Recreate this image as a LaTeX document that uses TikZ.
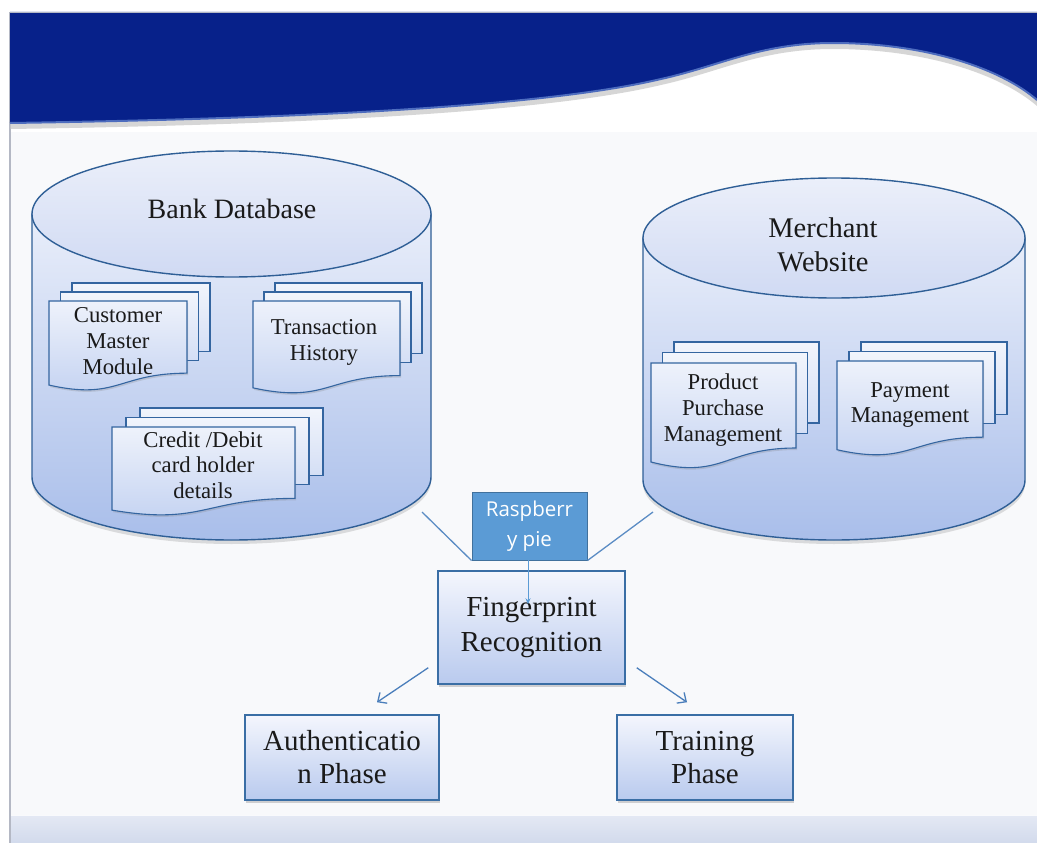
\documentclass[tikz,border=0pt]{standalone}
\usepackage{fontspec}
\setmainfont{Liberation Serif}
\newfontfamily\rpfont{Open Sans}
\usetikzlibrary{shadows,arrows.meta}
\definecolor{bandblue}{HTML}{07218A}
\definecolor{bandrim}{HTML}{4D6CBE}
\definecolor{framegray}{HTML}{B4B8C4}
\definecolor{contentbg}{HTML}{F8F9FB}
\definecolor{cylline}{HTML}{2F5F96}
\definecolor{cyltop}{HTML}{E9EEFA}
\definecolor{cylbot}{HTML}{A9BEEA}
\definecolor{elltop}{HTML}{EBEFFA}
\definecolor{ellbot}{HTML}{D0DAF3}
\definecolor{docline}{HTML}{3465A0}
\definecolor{doctop}{HTML}{EEF2FB}
\definecolor{docbot}{HTML}{C2D1F1}
\definecolor{boxline}{HTML}{3A6EA5}
\definecolor{boxtop}{HTML}{F4F6FD}
\definecolor{boxbot}{HTML}{B9CAEE}
\definecolor{rpfill}{HTML}{5B9BD5}
\definecolor{rpline}{HTML}{41719C}
\definecolor{conncol}{HTML}{5B8CC4}
\definecolor{arrowcol}{HTML}{4A7EBB}
\definecolor{txt}{HTML}{1A1A1A}
\definecolor{footband}{HTML}{D2DAEC}
\definecolor{foottop}{HTML}{E4E9F4}
\tikzset{
  lbl/.style={inner sep=0pt, align=center, text=txt},
  docback/.style={draw=docline, line width=1.1pt, top color=doctop!80!white, bottom color=docbot!70!white},
  docfront/.style={draw=docline, line width=1.1pt, top color=doctop, bottom color=docbot,
     drop shadow={opacity=0.25, shadow xshift=1pt, shadow yshift=-2pt}},
  cylbody/.style={draw=cylline, line width=1.4pt, top color=cyltop, bottom color=cylbot,
     drop shadow={opacity=0.25, shadow xshift=0pt, shadow yshift=-4pt}},
  cyltopell/.style={draw=cylline, line width=1.4pt, top color=elltop, bottom color=ellbot},
  phasebox/.style={draw=boxline, line width=1.5pt, top color=boxtop, bottom color=boxbot,
     inner sep=0pt, align=center, text=txt,
     drop shadow={opacity=0.35, shadow xshift=1pt, shadow yshift=-3pt}},
  rpbox/.style={draw=rpline, line width=1pt, fill=rpfill, text=white, align=center, inner sep=0pt},
  conn/.style={draw=conncol, line width=1.3pt},
  flow/.style={draw=arrowcol, line width=1.3pt, -{Straight Barb[length=7pt,width=13pt]}},
  rparrow/.style={draw=rpfill, line width=0.8pt, -{Stealth[length=6pt,width=5pt]}}
}
\newcommand\mdocstack[6]{%
  \draw[docback] ({#1+2*#5},{#2-2*#6}) rectangle ({#1+2*#5+#3},{#2+0.802*#4-2*#6-4});
  \draw[docback] ({#1+#5},{#2-#6}) rectangle ({#1+#5+#3},{#2+0.802*#4-#6-4});
  \draw[docfront] (#1,#2) -- ({#1+#3},#2) -- ({#1+#3},{#2+0.802*#4})
     .. controls ({#1+0.5*#3},{#2+0.802*#4}) and ({#1+0.5*#3},{#2+1.107*#4}) .. (#1,{#2+0.934*#4}) -- cycle;
}
\begin{document}
\begin{tikzpicture}[x=1pt,y=-1pt]
\useasboundingbox (0,0) rectangle (1037,843);
\fill[white] (0,0) rectangle (1037,843);
% content background
\fill[contentbg] (10,132) rectangle (1037,815);
% bottom band
\shade[top color=foottop, bottom color=footband] (10,815) rectangle (1037,843);
\draw[white, line width=1pt, opacity=0.8] (10,815.5) -- (1037,815.5);
% left frame line
\draw[framegray, line width=1.2pt] (10,12) -- (10,843);
% header band shadow
\fill[gray!45, opacity=0.7] (10,18) -- (1037,18) -- (1037,106)
  .. controls (1000,74) and (925,49) .. (833,49)
  .. controls (760,49) and (720,72) .. (661,85)
  .. controls (560,109) and (350,124) .. (10,129) -- cycle;
% header band
\fill[bandblue] (10,12) -- (1037,12) -- (1037,100)
  .. controls (1000,68) and (925,43) .. (833,43)
  .. controls (760,43) and (720,66) .. (661,79)
  .. controls (560,103) and (350,118) .. (10,123) -- cycle;
\draw[bandrim, line width=2pt] (1037,100)
  .. controls (1000,68) and (925,43) .. (833,43)
  .. controls (760,43) and (720,66) .. (661,79)
  .. controls (560,103) and (350,118) .. (10,123);
\draw[framegray, line width=1.2pt] (10,12.5) -- (1037,12.5);

% ---- Bank Database cylinder
\path[cylbody] (32,214) -- (32,477) arc[start angle=180, end angle=360, x radius=199.5pt, y radius=63pt] -- (431,214) -- cycle;
\path[cyltopell] (231.5,214) ellipse[x radius=199.5pt, y radius=63pt];
\node[lbl, font=\fontsize{28}{34}\selectfont] (bankdb) at (232,208.5) {Bank Database};

% ---- Merchant Website cylinder
\path[cylbody] (643,238) -- (643,480) arc[start angle=180, end angle=360, x radius=191pt, y radius=60pt] -- (1025,238) -- cycle;
\path[cyltopell] (834,238) ellipse[x radius=191pt, y radius=60pt];
\node[lbl, font=\fontsize{28.5}{34}\selectfont] (merchant) at (823,245) {Merchant\\Website};

% ---- document stacks
\mdocstack{49}{301}{138}{90}{11.5}{9}
\node[lbl, font=\fontsize{22.7}{26}\selectfont] (custmaster) at (118,341) {Customer\\Master\\Module};
\mdocstack{253}{301}{147}{93}{11}{9}
\node[lbl, font=\fontsize{22.7}{26}\selectfont] (transhist) at (324,342) {Transaction\\History};
\mdocstack{112}{427}{183}{89}{14}{9.5}
\node[lbl, font=\fontsize{22.7}{25.5}\selectfont] (carddetails) at (203,465) {Credit /Debit\\card holder\\details};
\mdocstack{651}{363}{145}{106}{11.5}{10.5}
\node[lbl, font=\fontsize{22.7}{26}\selectfont] (prodpurch) at (723,410.5) {Product\\Purchase\\Management};
\mdocstack{837}{361}{146}{95}{12}{9.5}
\node[lbl, font=\fontsize{22.7}{25}\selectfont] (paymgmt) at (910,405.5) {Payment\\Management};

% ---- central nodes
\coordinate (bankfoot) at (422,512);
\coordinate (merchfoot) at (653,512);
\node[rpbox, minimum width=115pt, minimum height=68pt, font=\rpfont\fontsize{20.5}{30}\selectfont] (rasp) at (529.5,526) {Raspberr\\y pie};
\path[conn] (bankfoot) -- (rasp.south west);
\path[conn] (merchfoot) -- (rasp.south east);

\node[phasebox, minimum width=187pt, minimum height=113pt, font=\fontsize{29}{35}\selectfont] (fp) at (531.5,627.5) {Fingerprint\\Recognition};
\node[phasebox, minimum width=194pt, minimum height=85pt, font=\fontsize{29}{33}\selectfont] (auth) at (342,757.5) {Authenticatio\\n Phase};
\node[phasebox, minimum width=176pt, minimum height=85pt, font=\fontsize{29}{33}\selectfont] (train) at (705,757.5) {Training\\Phase};

\draw[rparrow] ([xshift=-1.5pt,yshift=8pt]rasp.south) -- ([xshift=-3.5pt,yshift=-34pt]fp.north);
\draw[flow] ([xshift=-9pt,yshift=17pt]fp.south west) -- ([xshift=35pt,yshift=12pt]auth.north);
\draw[flow] ([xshift=11pt,yshift=17pt]fp.south east) -- ([xshift=-18pt,yshift=12pt]train.north);
\end{tikzpicture}
\end{document}
